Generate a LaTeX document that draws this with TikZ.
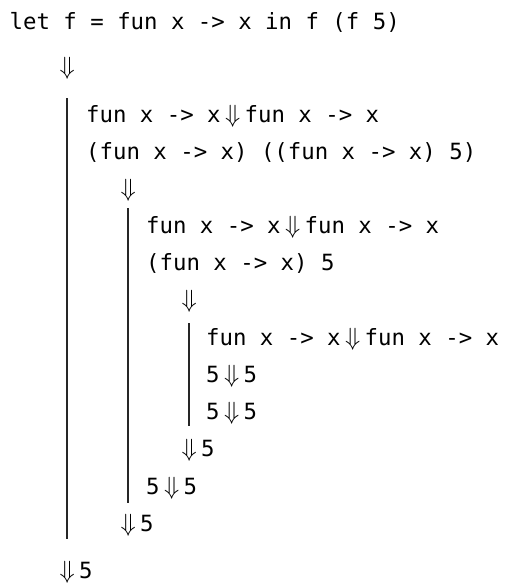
\documentclass[tikz,border=0pt]{standalone}
\usepackage{fontspec}
\setmonofont{DejaVu Sans Mono}
\newcommand\darr{\makebox[24pt]{\fontsize{24.88pt}{28pt}\selectfont$\Downarrow$}}
\begin{document}
\begin{tikzpicture}[x=1pt,y=-1pt,
  code/.style={inner sep=0pt, anchor=base west, font=\ttfamily\fontsize{22.34pt}{26pt}\selectfont, text=black},
  bar/.style={draw=black!85, line width=1.3pt}]
\useasboundingbox (0,0) rectangle (506,584);
% level 0
\node[code] (l0a) at (9.5,29) {let f = fun x -> x in f (f 5)};
\node[code] (l0b) at (55,74) {\darr};
% level 1
\node[code] (l1a) at (86,122) {fun x -> x\darr fun x -> x};
\node[code] (l1b) at (86,159) {(fun x -> x) ((fun x -> x) 5)};
\node[code] (l1c) at (116,196) {\darr};
% level 2
\node[code] (l2a) at (146,233) {fun x -> x\darr fun x -> x};
\node[code] (l2b) at (146,270) {(fun x -> x) 5};
\node[code] (l2c) at (177,307) {\darr};
% level 3
\node[code] (l3a) at (206,345) {fun x -> x\darr fun x -> x};
\node[code] (l3b) at (206,382) {5\darr 5};
\node[code] (l3c) at (206,419) {5\darr 5};
% returns
\node[code] (r2a) at (177,456) {\darr 5};
\node[code] (r2b) at (146,494) {5\darr 5};
\node[code] (r1) at (116,531) {\darr 5};
\node[code] (r0) at (55,578) {\darr 5};
% bars
\coordinate (b1t) at (67,98);  \coordinate (b1b) at (67,539);
\coordinate (b2t) at (128,208); \coordinate (b2b) at (128,503);
\coordinate (b3t) at (189,323); \coordinate (b3b) at (189,426);
\draw[bar] (b1t) -- (b1b);
\draw[bar] (b2t) -- (b2b);
\draw[bar] (b3t) -- (b3b);
\end{tikzpicture}
\end{document}
